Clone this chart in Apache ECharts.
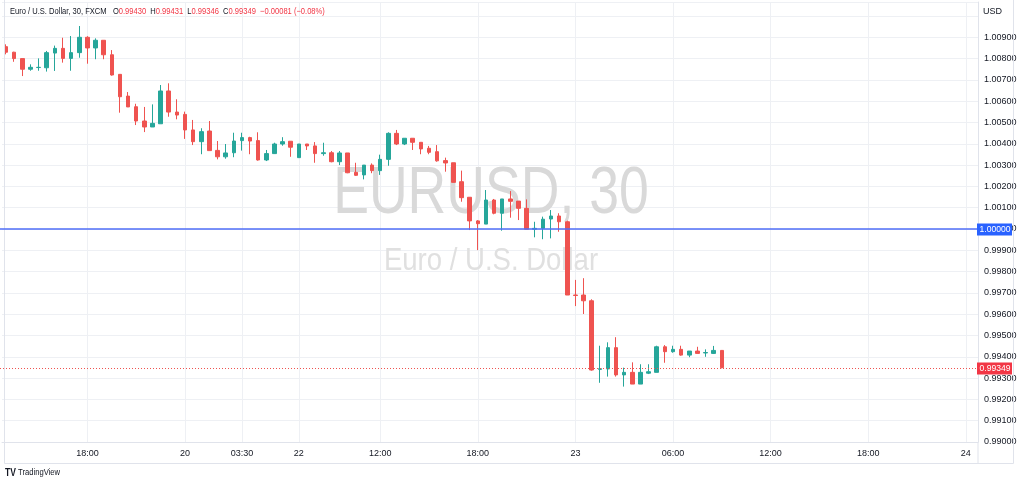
<!DOCTYPE html>
<html>
<head>
<meta charset="utf-8">
<script src="https://cdn.jsdelivr.net/npm/echarts@6/dist/echarts.min.js"></script>
<style>
html,body{margin:0;padding:0;background:#fff;}
#chart{width:1024px;height:485px;}
</style>
</head>
<body>
<div id="chart"></div>
<script>
// ---- data (EUR/USD, 30 min, FXCM) ----
const openP = [1.00856,1.00830,1.00800,1.00750,1.00758,1.00757,1.00826,1.00848,1.00801,1.00828,
1.00900,1.00850,1.00886,1.00818,1.00726,1.00624,1.00574,1.00507,1.00479,1.00494,
1.00648,1.00549,1.00538,1.00465,1.00410,1.00460,1.00369,1.00339,1.00358,1.00415,
1.00429,1.00415,1.00324,1.00354,1.00399,1.00412,1.00335,1.00399,1.00390,1.00354,
1.00358,1.00316,1.00357,1.00266,1.00254,1.00300,1.00274,1.00327,1.00449,1.00399,
1.00426,1.00407,1.00379,1.00363,1.00321,1.00311,1.00222,1.00149,1.00038,1.00023,
1.00136,1.00074,1.00141,1.00131,1.00097,0.99999,1.00003,1.00047,1.00061,1.00034,
0.99690,0.99690,0.99663,0.99341,0.99343,0.99443,0.99315,0.99327,0.99272,0.99323,
0.99327,0.99447,0.99424,0.99435,0.99408,0.99427,0.99418,0.99416,0.99430];
const closeP = [1.00830,1.00800,1.00750,1.00759,1.00759,1.00828,1.00848,1.00801,1.00828,1.00900,
1.00850,1.00886,1.00818,1.00723,1.00621,1.00573,1.00507,1.00479,1.00496,1.00648,
1.00549,1.00535,1.00465,1.00410,1.00457,1.00368,1.00339,1.00357,1.00413,1.00429,
1.00413,1.00324,1.00354,1.00399,1.00410,1.00384,1.00399,1.00390,1.00354,1.00358,
1.00316,1.00357,1.00264,1.00252,1.00300,1.00274,1.00327,1.00449,1.00399,1.00426,
1.00407,1.00376,1.00360,1.00320,1.00310,1.00219,1.00147,1.00038,1.00025,1.00136,
1.00074,1.00141,1.00130,1.00097,0.99999,1.00003,1.00046,1.00061,1.00034,0.99690,
0.99688,0.99663,0.99338,0.99344,0.99443,0.99315,0.99327,0.99272,0.99327,0.99330,
0.99447,0.99424,0.99435,0.99408,0.99427,0.99416,0.99420,0.99430,0.99349];
const lowP = [1.00820,1.00785,1.00718,1.00743,1.00743,1.00739,1.00742,1.00781,1.00743,1.00804,
1.00776,1.00797,1.00797,1.00720,1.00546,1.00573,1.00488,1.00455,1.00479,1.00494,
1.00527,1.00515,1.00423,1.00394,1.00351,1.00368,1.00327,1.00330,1.00337,1.00368,
1.00351,1.00321,1.00319,1.00352,1.00391,1.00339,1.00335,1.00371,1.00311,1.00344,
1.00313,1.00300,1.00262,1.00249,1.00233,1.00262,1.00254,1.00297,1.00394,1.00394,
1.00371,1.00351,1.00351,1.00316,1.00269,1.00219,1.00128,0.99995,0.99901,1.00023,
1.00069,0.99992,1.00053,1.00042,0.99999,0.99961,0.99952,0.99956,0.99987,0.99690,
0.99638,0.99601,0.99335,0.99278,0.99307,0.99307,0.99260,0.99272,0.99272,0.99319,
0.99327,0.99372,0.99419,0.99405,0.99398,0.99416,0.99400,0.99413,0.99346];
const highP = [1.00867,1.00832,1.00800,1.00773,1.00801,1.00836,1.00861,1.00898,1.00906,1.00953,
1.00905,1.00895,1.00886,1.00840,1.00726,1.00643,1.00588,1.00573,1.00585,1.00676,
1.00684,1.00609,1.00551,1.00512,1.00473,1.00507,1.00413,1.00399,1.00452,1.00452,
1.00433,1.00454,1.00371,1.00405,1.00431,1.00412,1.00399,1.00399,1.00408,1.00405,
1.00366,1.00366,1.00357,1.00311,1.00300,1.00308,1.00349,1.00454,1.00465,1.00426,
1.00426,1.00407,1.00390,1.00394,1.00335,1.00311,1.00274,1.00149,1.00042,1.00183,
1.00141,1.00141,1.00178,1.00131,1.00139,1.00034,1.00058,1.00089,1.00074,1.00039,
0.99761,0.99769,0.99670,0.99452,0.99468,0.99492,0.99349,0.99374,0.99365,0.99365,
0.99452,0.99455,0.99452,0.99452,0.99427,0.99447,0.99435,0.99451,0.99431];

// time-axis tick labels (category index -> label)
const tickIndex  = [10, 22, 29, 36, 46, 58, 70, 82, 94, 106, 118];
const tickLabels = ['18:00','20','03:30','22','12:00','18:00','23','06:00','12:00','18:00','24'];

// price-axis labels shown (the top grid line carries no label)
const yLabelTop = 1.009;

// horizontal reference lines
const parityLevel = 1.00000;
const lastPrice = closeP[closeP.length - 1];

// y-axis scale
const yMin = 0.99, yStep = 0.001, yMax = 1.010657;
const slotCount = 120;

// ---- categories: 30 min bars (weekend gap skipped) ----
function pad(n){return (n<10?'0':'')+n;}
const categories = [];
for (let i = 0; i < slotCount; i++) {
  let base, k;
  if (i < 36) { base = Date.UTC(2022,7,19,13,0); k = i; }
  else { base = Date.UTC(2022,7,22,7,0); k = i - 36; }
  const d = new Date(base + k * 30 * 60000);
  categories.push(pad(d.getUTCMonth()+1)+'-'+pad(d.getUTCDate())+' '+pad(d.getUTCHours())+':'+pad(d.getUTCMinutes()));
}
const candles = openP.map((o, i) => [o, closeP[i], lowP[i], highP[i]]);

const UP = '#26a69a', DOWN = '#ef5350';
const BLUE_LINE = '#4f6ef7', BLUE_TAG = '#2962ff', RED_TAG = '#f23645';
const FONT = 'Liberation Sans';
const TXT = '#131722';

const last = candles.length - 1;
const chg = closeP[last] - closeP[last - 1];
const pct = chg / closeP[last - 1] * 100;
const fmtSigned = (v, d) => (v < 0 ? '\u2212' : '+') + Math.abs(v).toFixed(d);
const headerText =
  '{t|Euro / U.S. Dollar, 30, FXCM}   {t|O}{v|' + openP[last].toFixed(5) + '}  {t|H}{v|' + highP[last].toFixed(5) +
  '}  {t|L}{v|' + lowP[last].toFixed(5) + '}  {t|C}{v|' + closeP[last].toFixed(5) + '}  {v|' +
  fmtSigned(chg, 5) + ' (' + fmtSigned(pct, 2) + '%)}';

const chart = echarts.init(document.getElementById('chart'), null, {renderer: 'canvas'});
const gridLine = '#eef0f4';
const frame = '#e0e3eb';
const GRID = { left: 2, right: 46, top: 2, bottom: 43 };
const plotRight = 1024 - GRID.right;

chart.setOption({
  animation: false,
  backgroundColor: '#ffffff',
  grid: { left: GRID.left, right: GRID.right, top: GRID.top, bottom: GRID.bottom, outerBoundsMode: 'none', containLabel: false },
  xAxis: {
    type: 'category',
    data: categories,
    boundaryGap: true,
    axisLine: { show: true, onZero: false, lineStyle: { color: frame } },
    axisTick: { show: false },
    axisLabel: {
      interval: (idx) => tickIndex.indexOf(idx) >= 0,
      formatter: (val, idx) => { const j = tickIndex.indexOf(idx); return j >= 0 ? tickLabels[j] : ''; },
      color: TXT, fontSize: 9, fontFamily: FONT, margin: 7
    },
    splitLine: {
      show: true,
      alignWithLabel: true,
      interval: (idx) => tickIndex.indexOf(idx) >= 0,
      lineStyle: { color: gridLine, width: 1 }
    }
  },
  yAxis: {
    type: 'value',
    position: 'right',
    min: yMin, max: yMax, interval: yStep,
    scale: true,
    axisLine: { show: true, onZero: false, lineStyle: { color: frame } },
    axisTick: { show: false },
    axisLabel: {
      showMaxLabel: false,
      formatter: (v) => (v > yLabelTop + 0.0005 ? '' : v.toFixed(5)),
      color: TXT, fontSize: 9, fontFamily: FONT, margin: 6
    },
    splitLine: { show: true, lineStyle: { color: gridLine, width: 1 } }
  },
  series: [
    {
      type: 'candlestick',
      data: candles,
      barWidth: 4,
      z: 3,
      itemStyle: {
        color: UP, color0: DOWN, borderColor: UP, borderColor0: DOWN, borderColorDoji: UP, borderWidth: 1
      }
    }
  ]
});

// price levels positioned through the chart's own y scale
function levelGraphics(value, lineColor, dash, tagColor, width, crisp) {
  const yRaw = Math.round(chart.convertToPixel({ yAxisIndex: 0 }, value));
  const y = crisp ? yRaw + 0.5 : yRaw;
  const lineStyle = { stroke: lineColor, lineWidth: width, opacity: 1 };
  if (dash) lineStyle.lineDash = dash;
  return [
    { type: 'line', z: 30, silent: true, shape: { x1: 0, y1: y, x2: plotRight, y2: y }, style: lineStyle },
    { type: 'rect', z: 31, silent: true, shape: { x: plotRight - 1, y: yRaw - 5.5, width: 35, height: 12 },
      style: { fill: tagColor } },
    { type: 'text', z: 32, silent: true, x: plotRight + 1.5, y: yRaw + 1, scaleX: 0.95,
      style: { text: value.toFixed(5), fontSize: 9, fontFamily: FONT, fill: '#ffffff', align: 'left', verticalAlign: 'middle' } }
  ];
}

const graphics = [
  { type: 'text', x: 491, y: 195, scaleX: 0.8, z: 1, silent: true,
    style: { text: 'EURUSD, 30', fontSize: 67, fontFamily: FONT, fill: '#d9d9d9', align: 'center', verticalAlign: 'middle' } },
  { type: 'text', x: 491, y: 261, scaleX: 0.86, z: 1, silent: true,
    style: { text: 'Euro / U.S. Dollar', fontSize: 32, fontFamily: FONT, fill: '#e0e0e0', align: 'center', verticalAlign: 'middle' } },
  { type: 'text', x: 10, y: 12, scaleX: 0.84, z: 10, silent: true,
    style: { text: headerText, fontSize: 9, fontFamily: FONT, align: 'left', verticalAlign: 'middle',
      rich: { t: { fill: TXT, color: TXT, fontSize: 9, fontFamily: FONT }, v: { fill: RED_TAG, color: RED_TAG, fontSize: 9, fontFamily: FONT } } } },
  { type: 'text', x: 983, y: 12, z: 10, silent: true,
    style: { text: 'USD', fontSize: 9, fontFamily: FONT, fill: TXT, align: 'left', verticalAlign: 'middle' } },
  { type: 'text', x: 5, y: 473, scaleX: 0.85, z: 10, silent: true,
    style: { text: '{l|TV} {t|TradingView}', fontSize: 9, fontFamily: FONT, align: 'left', verticalAlign: 'middle',
      rich: { l: { fill: '#131722', fontWeight: 'bold', fontSize: 10, fontFamily: FONT }, t: { fill: '#131722', fontSize: 9, fontFamily: FONT } } } },
  { type: 'line', z: 10, silent: true, shape: { x1: 4.5, y1: 0, x2: 4.5, y2: 463.5 }, style: { stroke: frame, lineWidth: 1 } },
  { type: 'line', z: 10, silent: true, shape: { x1: 4.5, y1: 463.5, x2: 1013.5, y2: 463.5 }, style: { stroke: frame, lineWidth: 1 } },
  { type: 'line', z: 10, silent: true, shape: { x1: 1013.5, y1: 0, x2: 1013.5, y2: 463.5 }, style: { stroke: frame, lineWidth: 1 } },
  { type: 'line', z: 10, silent: true, shape: { x1: plotRight, y1: 442, x2: plotRight, y2: 463.5 }, style: { stroke: frame, lineWidth: 1 } }
].concat(
  levelGraphics(parityLevel, BLUE_LINE, null, BLUE_TAG, 1.3, false),
  levelGraphics(lastPrice, DOWN, [1, 2], RED_TAG, 1, true)
);

chart.setOption({ graphic: graphics });
</script>
</body>
</html>
